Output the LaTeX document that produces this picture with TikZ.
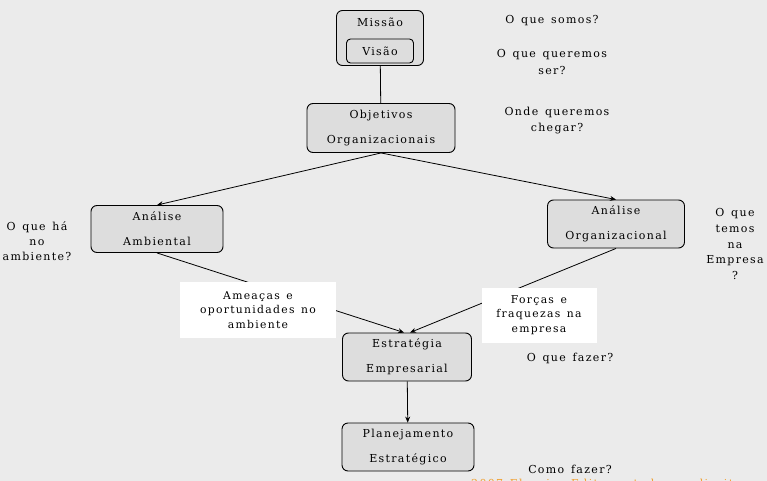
\documentclass[tikz,border=0pt]{standalone}
\usepackage{fontspec}
\setmainfont{DejaVu Serif}[LetterSpace=12,WordSpace=1.4]
\usetikzlibrary{arrows.meta}
\definecolor{bgcol}{HTML}{EBEBEB}
\definecolor{boxcol}{HTML}{DDDDDD}
\definecolor{notecol}{HTML}{F0A030}
\begin{document}
\begin{tikzpicture}[x=1pt,y=-1pt,
    font=\fontsize{11}{16}\selectfont,
    gbox/.style={draw,rounded corners=6pt,fill=boxcol,line width=0.9pt,align=center,inner sep=0pt},
    wbox/.style={fill=white,align=center,inner sep=0pt,font=\fontsize{10.8}{14.5}\selectfont},
    ask/.style={align=center,inner sep=0pt},
    conn/.style={line width=0.8pt},
    arr/.style={line width=0.8pt,-{Stealth[length=6pt,width=5pt]}}]
    \fill[bgcol] (0,0) rectangle (767,481);
    \clip (0,0) rectangle (767,481);

    % caixas cinzentas
    \node[gbox,minimum width=87pt,minimum height=55pt] (missao) at (380,38){};
    \node[ask] (missaotxt) at (380,22){Missão};
    \node[gbox,minimum width=67pt,minimum height=24pt,rounded corners=4pt] (visao) at (380,51){Visão};
    \node[gbox,minimum width=148pt,minimum height=49pt] (objetivos) at (381,128){Objetivos\\[9pt]Organizacionais};
    \node[gbox,minimum width=132pt,minimum height=47pt] (ambiental) at (157,229){Análise\\[9pt]Ambiental};
    \node[gbox,minimum width=137pt,minimum height=48pt] (organizacional) at (616,224){Análise\\[9pt]Organizacional};
    \node[gbox,minimum width=129pt,minimum height=48pt] (estrategia) at (407,357){Estratégia\\[9pt]Empresarial};
    \node[gbox,minimum width=132pt,minimum height=48pt] (planejamento) at (408,447){Planejamento\\[9pt]Estratégico};

    % ligacoes
    \draw[conn] (missao) -- (objetivos);
    \draw[arr] (objetivos.south) -- (ambiental.north);
    \draw[arr] (objetivos.south) -- (organizacional.north);
    \draw[arr] (ambiental.south) -- ([xshift=-3pt]estrategia.north);
    \draw[arr] (organizacional.south) -- ([xshift=3pt]estrategia.north);
    \draw[arr] (estrategia) -- (planejamento);

    % caixas brancas por cima das ligacoes
    \node[wbox,minimum width=156pt,minimum height=56pt] (ameacas) at (258,310){Ameaças e\\oportunidades no\\ambiente};
    \node[wbox,minimum width=115pt,minimum height=55pt] (forcas) at (539,315){Forças e\\fraquezas na\\empresa};

    % perguntas
    \node[ask] (somos) at (552,21){O que somos?};
    \node[ask,font=\fontsize{11}{17}\selectfont] (queremos) at (552,62){O que queremos\\ser?};
    \node[ask] (chegar) at (557,121){Onde queremos\\chegar?};
    \node[ask,font=\fontsize{11}{15}\selectfont] (ambiente) at (37,241){O que há\\no\\ambiente?};
    \node[ask,font=\fontsize{11}{15.8}\selectfont] (temos) at (735,244){O que\\temos\\na\\Empresa\\?};
    \node[ask] (fazer) at (570,358){O que fazer?};
    \node[ask] (como) at (570,469){Como fazer?};
    \node[anchor=west,inner sep=0pt,text=notecol,font=\fontsize{11}{15}\selectfont] (rodape) at (471,483.5){2007 Elsevier Editora. todos os direitos reservados};
\end{tikzpicture}
\end{document}
